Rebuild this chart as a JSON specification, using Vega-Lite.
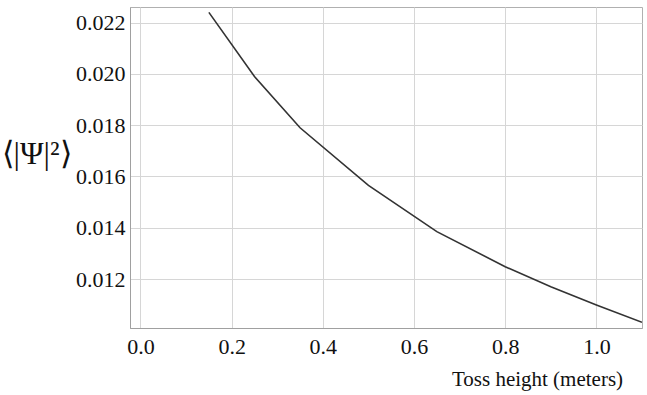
{
  "$schema": "https://vega.github.io/schema/vega-lite/v6.json",
  "width": 512,
  "height": 321,
  "autosize": "none",
  "padding": {"left": 130, "top": 7, "right": 5, "bottom": 67},
  "background": "white",
  "config": {
    "view": {"stroke": "#b0b0b0", "strokeWidth": 1},
    "font": "Liberation Serif"
  },
  "data": {
    "values": [
      {"h": 0.15, "v": 0.02240},
      {"h": 0.25, "v": 0.01990},
      {"h": 0.35, "v": 0.01790},
      {"h": 0.50, "v": 0.01565},
      {"h": 0.65, "v": 0.01385},
      {"h": 0.80, "v": 0.01248},
      {"h": 0.90, "v": 0.01170},
      {"h": 1.00, "v": 0.01099},
      {"h": 1.10, "v": 0.01031}
    ]
  },
  "mark": {"type": "line", "color": "#333333", "strokeWidth": 1.6, "clip": true},
  "encoding": {
    "x": {
      "field": "h", "type": "quantitative",
      "scale": {"domain": [-0.023, 1.1], "nice": false, "zero": false},
      "axis": {
        "values": [0, 0.2, 0.4, 0.6, 0.8, 1.0],
        "format": ".1f",
        "title": "Toss height (meters)",
        "titleFont": "Liberation Serif", "titleFontSize": 21, "titleFontWeight": "normal", "titleColor": "#111",
        "titleAlign": "center", "titleBaseline": "alphabetic",
        "titleX": 407, "titleY": 57,
        "labelFont": "Liberation Serif", "labelFontSize": 22, "labelColor": "#111",
        "labelPadding": 8,
        "tickSize": 0, "domainColor": "#a0a0a0",
        "grid": true, "gridColor": "#d6d6d6", "gridWidth": 1
      }
    },
    "y": {
      "field": "v", "type": "quantitative",
      "scale": {"domain": [0.01009, 0.02261], "nice": false, "zero": false},
      "axis": {
        "values": [0.012, 0.014, 0.016, 0.018, 0.020, 0.022],
        "format": ".3f",
        "title": "⟨|Ψ|²⟩",
        "titleFont": "Liberation Serif", "titleFontSize": 32, "titleFontWeight": "normal", "titleColor": "#111",
        "titleAngle": 0, "titleAlign": "center", "titleBaseline": "middle",
        "titleX": -94, "titleY": 146,
        "labelFont": "Liberation Serif", "labelFontSize": 22, "labelColor": "#111",
        "labelPadding": 5,
        "tickSize": 0, "domainColor": "#a0a0a0",
        "grid": true, "gridColor": "#d6d6d6", "gridWidth": 1
      }
    }
  }
}
